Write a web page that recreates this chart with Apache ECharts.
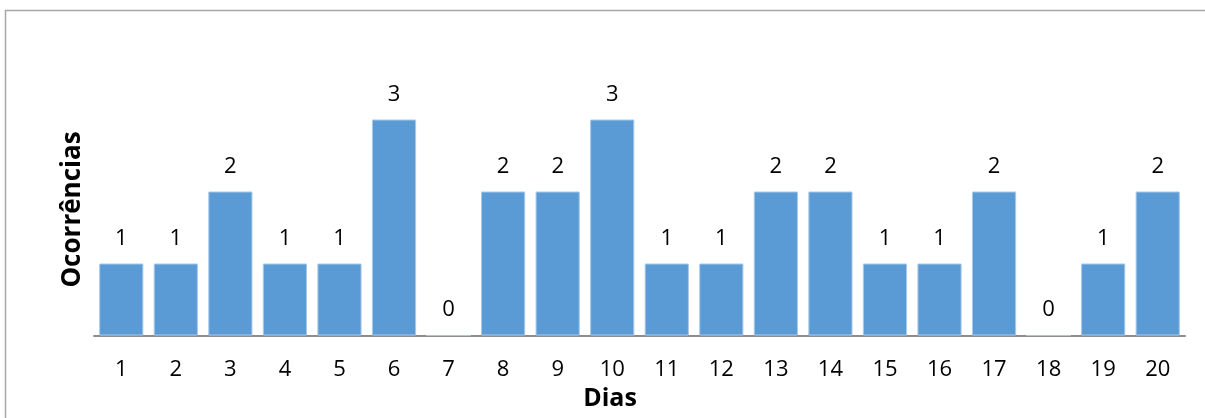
<!DOCTYPE html>
<html>
<head>
<meta charset="utf-8">
<script src="https://cdn.jsdelivr.net/npm/echarts@6/dist/echarts.min.js"></script>
<style>
  html, body { margin: 0; padding: 0; background: #fff; }
  #chart { width: 1205px; height: 418px; }
</style>
</head>
<body>
<div id="chart"></div>
<script>
// Days of the period and number of occurrences recorded on each
const dias = ['1','2','3','4','5','6','7','8','9','10','11','12','13','14','15','16','17','18','19','20'];
const ocorrencias = [1, 1, 2, 1, 1, 3, 0, 2, 2, 3, 1, 1, 2, 2, 1, 1, 2, 0, 1, 2];

const FONT = '"Open Sans", "Noto Sans", sans-serif';

const chart = echarts.init(document.getElementById('chart'), null, { renderer: 'canvas' });

chart.setOption({
  animation: false,
  backgroundColor: '#ffffff',
  textStyle: { fontFamily: FONT, color: '#000' },
  graphic: [{
    type: 'rect',
    shape: { x: 5.5, y: 10.5, width: 1260, height: 460 },
    style: { fill: 'none', stroke: '#a6a6a6', lineWidth: 1.5 },
    silent: true,
    z: -1
  }],
  grid: { left: 94, right: 20, top: 83.5, bottom: 82.5, containLabel: false },
  xAxis: {
    type: 'category',
    data: dias,
    name: 'Dias',
    nameLocation: 'middle',
    nameGap: 51,
    nameTextStyle: { fontFamily: FONT, fontWeight: 'bold', fontSize: 25, color: '#000', padding: [0, 59, 0, 0] },
    axisLine: { show: true, lineStyle: { color: '#8c8c8c', width: 2 } },
    axisTick: { show: false },
    axisLabel: { fontFamily: FONT, fontSize: 22, color: '#000', margin: 23 }
  },
  yAxis: {
    type: 'value',
    min: 0,
    max: 3.5,
    interval: 0.5,
    name: 'Ocorrências',
    nameLocation: 'middle',
    nameGap: 8,
    nameTextStyle: { fontFamily: FONT, fontWeight: 'bold', fontSize: 26, color: '#000' },
    axisLine: { show: false },
    axisTick: { show: false },
    axisLabel: { show: false },
    splitLine: { show: false }
  },
  series: [{
    type: 'bar',
    data: ocorrencias,
    barCategoryGap: '19%',
    itemStyle: { color: '#5b9bd5', borderColor: '#a9c9ea', borderWidth: 1 },
    label: {
      show: true,
      position: 'top',
      distance: 14,
      fontFamily: FONT,
      fontSize: 22,
      color: '#000'
    }
  }]
});
</script>
</body>
</html>
